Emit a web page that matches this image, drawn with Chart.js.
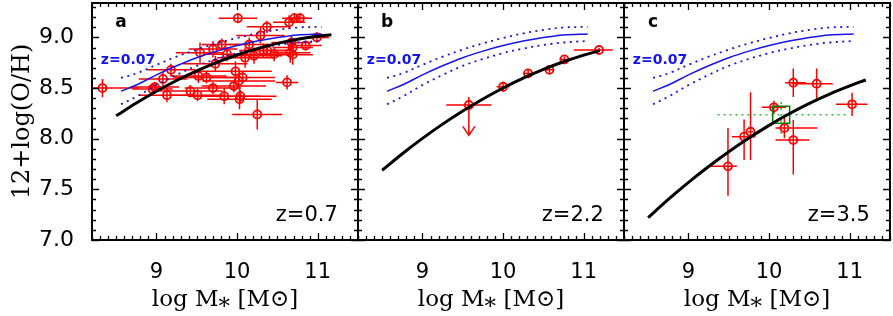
<!DOCTYPE html>
<html><head><meta charset="utf-8">
<script src="https://cdn.jsdelivr.net/npm/chart.js@4.4.1/dist/chart.umd.min.js"></script>
<style>
html,body{margin:0;padding:0;background:#fff;}
#wrap{position:relative;width:893px;height:316px;overflow:hidden;background:#fff;}
canvas{position:absolute;left:0;top:0;}
</style></head><body>
<div id="wrap">
<canvas id="ca" width="893" height="316"></canvas>
<canvas id="cb" width="893" height="316"></canvas>
<canvas id="cc" width="893" height="316"></canvas>
</div>
<script>
// ================= DATA =================
const xTicks = [9, 10, 11];
const yTicks = [7.0, 7.5, 8.0, 8.5, 9.0];
const panelLetters = ['a', 'b', 'c'];
const panelRedshifts = ['z=0.7', 'z=2.2', 'z=3.5'];
const localLabel = 'z=0.07';
const xTitle = 'log M\u204E [M\u2299]';
const yTitle = '12+log(O/H)';

// local (z=0.07) relation and its dispersion (blue)
const localMass  = [8.56, 8.75, 9.0, 9.25, 9.5, 9.75, 10.0, 10.25, 10.5, 10.75, 11.05];
const localOH    = [8.47, 8.53, 8.63, 8.72, 8.80, 8.865, 8.92, 8.965, 9.00, 9.025, 9.035];
const localOHHi  = [8.60, 8.645, 8.73, 8.81, 8.88, 8.942, 8.995, 9.04, 9.075, 9.098, 9.105];
const localOHLo  = [8.34, 8.415, 8.53, 8.63, 8.72, 8.788, 8.845, 8.89, 8.925, 8.95, 8.965];

// fitted relations (black)
const fitMassA = [8.5, 8.75, 9.0, 9.25, 9.5, 9.75, 10.0, 10.25, 10.5, 10.75, 11.0, 11.17];
const fitOHA   = [8.226, 8.353, 8.469, 8.575, 8.670, 8.754, 8.827, 8.889, 8.941, 8.982, 9.012, 9.026];
const fitMassB = [8.5, 8.75, 9.0, 9.25, 9.5, 9.75, 10.0, 10.25, 10.5, 10.75, 11.0, 11.2];
const fitOHB   = [7.689, 7.852, 8.003, 8.144, 8.273, 8.392, 8.501, 8.598, 8.685, 8.760, 8.826, 8.870];
const fitMassC = [8.5, 8.75, 9.0, 9.25, 9.5, 9.75, 10.0, 10.25, 10.5, 10.75, 11.0, 11.2];
const fitOHC   = [7.222, 7.401, 7.569, 7.726, 7.872, 8.007, 8.132, 8.246, 8.349, 8.441, 8.522, 8.580];

// panel a: z=0.7 galaxies
const aMass = [8.33, 8.95, 8.98, 9.08, 9.13, 9.18, 9.42, 9.51, 9.54, 9.52, 9.62, 9.70, 9.70, 9.73, 9.81, 9.84, 9.875, 9.96, 9.98, 10.01, 10.02, 10.04, 10.03, 10.07, 10.10, 10.15, 10.21, 10.25, 10.29, 10.325, 10.37, 10.375, 10.46, 10.62, 10.645, 10.71, 10.78, 10.675, 10.69, 10.66, 10.69, 10.85, 10.99];
const aOH = [8.50, 8.49, 8.51, 8.59, 8.43, 8.68, 8.47, 8.43, 8.85, 8.62, 8.605, 8.885, 8.50, 8.74, 8.93, 8.42, 8.835, 8.52, 8.665, 9.19, 8.57, 8.42, 8.39, 8.605, 8.80, 8.93, 8.82, 8.24, 9.02, 8.87, 9.105, 8.87, 8.835, 8.556, 9.15, 9.19, 9.19, 8.95, 8.90, 8.85, 8.83, 8.92, 9.00];
const aMassErr = [0.45, 0.25, 0.3, 0.3, 0.35, 0.3, 0.4, 0.35, 0.3, 0.35, 0.4, 0.3, 0.35, 0.4, 0.25, 0.45, 0.3, 0.4, 0.45, 0.24, 0.45, 0.45, 0.4, 0.4, 0.35, 0.25, 0.35, 0.31, 0.3, 0.3, 0.25, 0.3, 0.3, 0.14, 0.2, 0.15, 0.15, 0.25, 0.25, 0.25, 0.25, 0.2, 0.15];
const aOHErr = [0.09, 0.06, 0.05, 0.07, 0.07, 0.06, 0.06, 0.06, 0.1, 0.07, 0.06, 0.08, 0.06, 0.08, 0.06, 0.08, 0.07, 0.06, 0.1, 0.05, 0.08, 0.06, 0.1, 0.06, 0.1, 0.07, 0.08, 0.15, 0.08, 0.07, 0.06, 0.07, 0.07, 0.07, 0.07, 0.05, 0.05, 0.07, 0.08, 0.1, 0.1, 0.05, 0.05];

// panel b: z=2.2 stacked points
const bMass = [9.575, 10.0, 10.31, 10.575, 10.76, 11.19];
const bOH = [8.333, 8.513, 8.645, 8.68, 8.783, 8.876];
const bMassErrLo = [0.28, 0.08, 0.06, 0.05, 0.05, 0.315];
const bMassErrHi = [0.28, 0.08, 0.06, 0.05, 0.05, 0.17];
const bOHErrLo = [0.0, 0.05, 0.04, 0.04, 0.03, 0.02];
const bOHErrHi = [0.08, 0.05, 0.04, 0.04, 0.03, 0.02];
const bUpperLimit = [0.30, 0, 0, 0, 0, 0];

// panel c: z=3.5 galaxies
const cMass = [9.49, 9.69, 9.77, 10.06, 10.19, 10.30, 10.30, 10.59, 11.03];
const cOH = [7.727, 8.02, 8.069, 8.31, 8.105, 7.987, 8.553, 8.543, 8.34];
const cMassErrLo = [0.23, 0.15, 0.03, 0.15, 0.11, 0.22, 0.10, 0.30, 0.20];
const cMassErrHi = [0.11, 0.14, 0.03, 0.15, 0.41, 0.20, 0.16, 0.20, 0.19];
const cOHErrLo = [0.29, 0.23, 0.28, 0.065, 0.10, 0.34, 0.14, 0.15, 0.115];
const cOHErrHi = [0.38, 0.17, 0.39, 0.065, 0.10, 0.20, 0.14, 0.15, 0.115];
// panel c: stacked point (green)
const cStackMass = [10.15];
const cStackOH = [8.237];
const cStackMassErrLo = [0.79];
const cStackMassErrHi = [0.83];
const cStackOHErrLo = [0.19];
const cStackOHErrHi = [0.155];

// ================= HELPERS =================
const RED = 'rgb(255,0,0)';
const BLUE = 'rgb(20,20,235)';
const pts = (xs, ys) => xs.map((v, i) => ({x: v, y: ys[i]}));

const frameTicks = {
  id: 'frameTicks',
  afterDraw(chart) {
    const {ctx, chartArea: a, scales: {x, y}} = chart;
    ctx.save();
    ctx.strokeStyle = '#000';
    ctx.lineWidth = 1.3;
    ctx.setLineDash([]);
    ctx.beginPath();
    for (let k = Math.ceil(x.min * 10 - 1e-6); k <= Math.floor(x.max * 10 + 1e-6); k++) {
      const px = Math.round(x.getPixelForValue(k / 10)) + 0.5;
      const len = (k % 10 === 0) ? 7 : 4;
      ctx.moveTo(px, a.bottom); ctx.lineTo(px, a.bottom - len);
      ctx.moveTo(px, a.top); ctx.lineTo(px, a.top + len);
    }
    for (let k = Math.ceil(y.min * 10 - 1e-6); k <= Math.floor(y.max * 10 + 1e-6); k++) {
      const py = Math.round(y.getPixelForValue(k / 10)) + 0.5;
      const len = (k % 5 === 0) ? 7 : 4;
      ctx.moveTo(a.left, py); ctx.lineTo(a.left + len, py);
      ctx.moveTo(a.right, py); ctx.lineTo(a.right - len, py);
    }
    ctx.stroke();
    ctx.lineWidth = 2;
    ctx.strokeRect(a.left, a.top, a.right - a.left, a.bottom - a.top);
    ctx.restore();
  }
};

const errBars = {
  id: 'errBars',
  beforeDatasetsDraw(chart) {
    const {ctx, chartArea: a, scales: {x, y}} = chart;
    ctx.save();
    ctx.beginPath(); ctx.rect(a.left, a.top, a.right - a.left, a.bottom - a.top); ctx.clip();
    chart.data.datasets.forEach(ds => {
      if (!ds.xErrLo) return;
      ctx.strokeStyle = ds.errColor || RED;
      ctx.lineWidth = ds.errWidth || 1.5;
      ctx.setLineDash(ds.errDash || []);
      ds.data.forEach((p, i) => {
        const px = x.getPixelForValue(p.x), py = y.getPixelForValue(p.y);
        ctx.beginPath();
        ctx.moveTo(x.getPixelForValue(p.x - ds.xErrLo[i]), py);
        ctx.lineTo(x.getPixelForValue(p.x + ds.xErrHi[i]), py);
        ctx.moveTo(px, y.getPixelForValue(p.y - ds.yErrLo[i]));
        ctx.lineTo(px, y.getPixelForValue(p.y + ds.yErrHi[i]));
        ctx.stroke();
        if (ds.limitLen && ds.limitLen[i] > 0) {
          const ey = y.getPixelForValue(p.y - ds.limitLen[i]);
          ctx.beginPath();
          ctx.moveTo(px, py); ctx.lineTo(px, ey);
          ctx.moveTo(px - 6, ey - 9); ctx.lineTo(px, ey); ctx.lineTo(px + 6, ey - 9);
          ctx.stroke();
        }
      });
    });
    ctx.restore();
  }
};

const panelText = {
  id: 'panelText',
  afterDatasetsDraw(chart, args, o) {
    const {ctx, scales: {x, y}} = chart;
    ctx.save();
    ctx.textBaseline = 'middle';
    ctx.fillStyle = '#000';
    ctx.font = 'bold 17px "DejaVu Sans"';
    ctx.textAlign = 'center';
    ctx.fillText(o.letter, x.getPixelForValue(8.56), y.getPixelForValue(9.15));
    ctx.fillStyle = BLUE;
    ctx.font = 'bold 14px "DejaVu Sans"';
    ctx.textAlign = 'left';
    ctx.fillText(o.local, x.getPixelForValue(8.31), y.getPixelForValue(8.77));
    ctx.fillStyle = '#000';
    ctx.font = '21px "DejaVu Sans"';
    ctx.textAlign = 'right';
    ctx.fillText(o.redshift, x.getPixelForValue(11.25), y.getPixelForValue(7.24));
    ctx.restore();
  }
};

function localDatasets() {
  return [
    {data: pts(localMass, localOH), showLine: true, borderColor: BLUE, borderWidth: 1.5, pointRadius: 0, tension: 0.35, order: 1},
    {data: pts(localMass, localOHHi), showLine: true, borderColor: BLUE, borderWidth: 1.8, borderDash: [2, 4.5], pointRadius: 0, tension: 0.35, order: 1},
    {data: pts(localMass, localOHLo), showLine: true, borderColor: BLUE, borderWidth: 1.8, borderDash: [2, 4.5], pointRadius: 0, tension: 0.35, order: 1}
  ];
}
function fitDataset(xs, ys) {
  return {data: pts(xs, ys), showLine: true, borderColor: '#000', borderWidth: 3, pointRadius: 0, tension: 0.35, order: 0};
}
function pointDataset(xs, ys, xLo, xHi, yLo, yHi, lim) {
  return {data: pts(xs, ys), showLine: false, pointStyle: 'circle', pointRadius: 4, pointBorderWidth: 1.8,
    pointBorderColor: RED, pointBackgroundColor: 'rgba(0,0,0,0)', order: 3,
    xErrLo: xLo, xErrHi: xHi, yErrLo: yLo, yErrHi: yHi, limitLen: lim};
}

function makeOptions(padLeft, padRight, showY, idx) {
  return {
    responsive: false, animation: false, devicePixelRatio: 1,
    layout: {autoPadding: false, padding: {left: padLeft, right: padRight, top: 3, bottom: 0}},
    plugins: {
      legend: {display: false}, tooltip: {enabled: false},
      panelText: {letter: panelLetters[idx], redshift: panelRedshifts[idx], local: localLabel}
    },
    scales: {
      x: {
        type: 'linear', min: 8.2, max: 11.5,
        grid: {display: false}, border: {display: false},
        afterFit(s) { s.height = 76; s.paddingLeft = 0; s.paddingRight = 0; s.paddingTop = 0; s.paddingBottom = 0; },
        afterBuildTicks(s) { s.ticks = xTicks.map(v => ({value: v})); },
        ticks: {font: {family: 'DejaVu Sans', size: 21}, color: '#000', padding: 12, maxRotation: 0, autoSkip: false,
                callback: v => String(v)},
        title: {display: true, text: xTitle, color: '#000', font: {family: 'DejaVu Serif', size: 23},
                padding: {top: 0, bottom: 2}}
      },
      y: {
        type: 'linear', min: 7.0, max: 9.34, display: showY,
        grid: {display: false}, border: {display: false},
        afterFit(s) { s.width = showY ? 92 : 0; s.paddingLeft = 0; s.paddingRight = 0; s.paddingTop = 0; s.paddingBottom = 0; },
        afterBuildTicks(s) { s.ticks = yTicks.map(v => ({value: v})); },
        ticks: {font: {family: 'DejaVu Sans', size: 22}, color: '#000', padding: 10, autoSkip: false,
                callback: v => Number(v).toFixed(1)},
        title: {display: true, text: yTitle, color: '#000', font: {family: 'DejaVu Serif', size: 24},
                padding: {top: 8, bottom: 0}}
      }
    }
  };
}

const plugins = [errBars, frameTicks, panelText];

new Chart(document.getElementById('ca'), {
  type: 'scatter',
  data: {datasets: [
    fitDataset(fitMassA, fitOHA),
    ...localDatasets(),
    pointDataset(aMass, aOH, aMassErr, aMassErr, aOHErr, aOHErr, null)
  ]},
  options: makeOptions(0, 893 - 358, true, 0),
  plugins
});

new Chart(document.getElementById('cb'), {
  type: 'scatter',
  data: {datasets: [
    fitDataset(fitMassB, fitOHB),
    ...localDatasets(),
    pointDataset(bMass, bOH, bMassErrLo, bMassErrHi, bOHErrLo, bOHErrHi, bUpperLimit)
  ]},
  options: makeOptions(358, 893 - 624, false, 1),
  plugins
});

new Chart(document.getElementById('cc'), {
  type: 'scatter',
  data: {datasets: [
    fitDataset(fitMassC, fitOHC),
    ...localDatasets(),
    pointDataset(cMass, cOH, cMassErrLo, cMassErrHi, cOHErrLo, cOHErrHi, null),
    {data: pts(cStackMass, cStackOH), showLine: false, pointStyle: 'rect', pointRadius: 12, pointBorderWidth: 1.5,
     pointBorderColor: 'rgb(0,130,0)', pointBackgroundColor: 'rgba(0,0,0,0)', order: 2,
     xErrLo: cStackMassErrLo, xErrHi: cStackMassErrHi, yErrLo: cStackOHErrLo, yErrHi: cStackOHErrHi,
     errColor: 'rgb(60,180,60)', errWidth: 1.6, errDash: [2, 4]}
  ]},
  options: makeOptions(624, 3, false, 2),
  plugins
});
</script>
</body></html>
